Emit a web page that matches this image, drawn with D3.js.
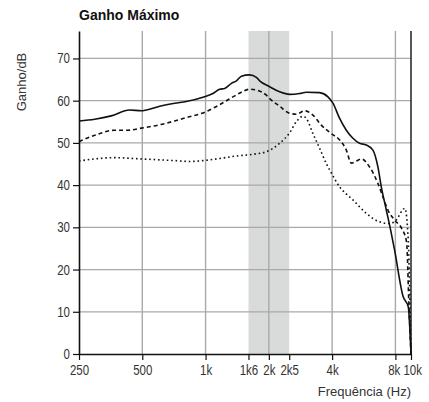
<!DOCTYPE html>
<html>
<head>
<meta charset="utf-8">
<script src="https://cdn.jsdelivr.net/npm/d3@7"></script>
<style>
  body { margin: 0; background: #fff; }
  .tick text { font-family: "Liberation Sans Narrow", "Liberation Sans", Arial, sans-serif; font-size: 14px; fill: #333; }
</style>
</head>
<body>
<div id="chart"></div>
<script>
// frequency ticks (Hz) and their labels
const freqTicks = [250, 500, 1000, 1600, 2000, 2500, 4000, 8000, 10000];
const freqLabels = ["250", "500", "1k", "1k6", "2k", "2k5", "4k", "8k", "10k"];
const gridFreqs = [500, 1000, 2000, 4000, 8000];
const gainTicks = [0, 10, 20, 30, 40, 50, 60, 70];
const band = [1600, 2500];

// solid curve [Hz, dB]
const solidFreq = [250, 297, 356, 435, 495, 523, 605, 713, 810, 972, 1084, 1167, 1233, 1327, 1401, 1480, 1620, 1745, 1808, 2018, 2251, 2512, 2803, 3015, 3489, 3821, 4036, 4343, 4673, 5023, 5405, 5816, 6254, 6605, 6855, 7241, 7590, 7930, 8936, 9614, 10000];
const solidGain = [55.2, 55.6, 56.4, 57.8, 57.6, 57.8, 58.7, 59.4, 59.8, 60.8, 61.7, 62.7, 62.9, 64.1, 64.7, 65.8, 66.1, 65.5, 64.7, 63.3, 62.1, 61.5, 61.7, 62.0, 61.9, 60.9, 59.4, 55.8, 53.0, 51.1, 49.9, 49.5, 48.3, 44.3, 39.6, 34.1, 29.4, 24.6, 13.6, 11.2, 0];

// dashed curve
const dashFreq = [250, 297, 370, 428, 495, 594, 713, 810, 972, 1084, 1210, 1350, 1480, 1620, 1745, 1946, 2018, 2251, 2512, 2702, 2961, 3242, 3553, 3965, 4343, 4673, 4936, 5213, 5507, 6030, 6605, 6978, 7370, 7930, 8730, 9390, 9700, 10000];
const dashGain = [50.3, 51.8, 53.0, 53.0, 53.5, 54.2, 55.2, 56.0, 57.1, 58.2, 59.5, 60.9, 62.0, 62.7, 62.5, 61.3, 60.5, 58.7, 57.0, 56.8, 57.6, 56.6, 54.2, 52.2, 50.7, 48.3, 45.2, 45.7, 46.2, 44.3, 40.4, 37.2, 34.1, 31.7, 29.8, 26.5, 12, 0];

// dotted curve
const dotFreq = [250, 297, 370, 495, 713, 840, 972, 1167, 1401, 1681, 1946, 2251, 2512, 2702, 2906, 3015, 3242, 3489, 3753, 3893, 4343, 5023, 5816, 6728, 7508, 8000, 9160, 9614, 9900, 10000];
const dotGain = [45.7, 46.2, 46.5, 46.2, 45.8, 45.6, 45.8, 46.3, 46.9, 47.3, 47.9, 49.9, 52.4, 55.0, 56.3, 55.8, 52.2, 48.7, 45.1, 43.6, 39.6, 36.5, 33.3, 31.3, 30.9, 31.5, 34.5, 27, 8, 0];

const margin = { top: 31, right: 18, bottom: 48, left: 79 };
const width = 429 - margin.left - margin.right;
const height = 402 - margin.top - margin.bottom;

const svg = d3.select("#chart")
  .append("svg")
  .attr("width", 429)
  .attr("height", 402);

const g = svg.append("g")
  .attr("transform", "translate(" + margin.left + "," + margin.top + ")");

// log2 frequency axis, last segment (8k-10k) is compressed like the original
const xLog = d3.scaleLinear()
  .domain([Math.log2(250), Math.log2(8000), Math.log2(10000)])
  .range([0, 316.4, width]);
const x = f => xLog(Math.log2(f));

const y = d3.scaleLinear()
  .domain([0, 76.5])
  .range([height, 0]);

// shaded band
g.append("rect")
  .attr("x", x(band[0]))
  .attr("y", 0)
  .attr("width", x(band[1]) - x(band[0]))
  .attr("height", height)
  .attr("fill", "#d9dbdb");

// horizontal grid
g.selectAll(".hgrid")
  .data(gainTicks.slice(1))
  .enter()
  .append("line")
  .attr("class", "hgrid")
  .attr("x1", 0)
  .attr("x2", width)
  .attr("y1", d => y(d))
  .attr("y2", d => y(d))
  .attr("stroke", "#a9a9a9")
  .attr("stroke-width", 1.2);

// vertical grid
g.selectAll(".vgrid")
  .data(gridFreqs)
  .enter()
  .append("line")
  .attr("class", "vgrid")
  .attr("x1", d => x(d))
  .attr("x2", d => x(d))
  .attr("y1", 0)
  .attr("y2", height)
  .attr("stroke", "#a9a9a9")
  .attr("stroke-width", 1.4);

// curves
const line = d3.line()
  .x(d => x(d[0]))
  .y(d => y(d[1]))
  .curve(d3.curveMonotoneX);

const series = [
  { f: dotFreq, v: dotGain, dash: "1.6,2.8" },
  { f: dashFreq, v: dashGain, dash: "4,3" },
  { f: solidFreq, v: solidGain, dash: null }
];

series.forEach(s => {
  g.append("path")
    .datum(s.f.map((f, i) => [f, s.v[i]]))
    .attr("fill", "none")
    .attr("stroke", "#111")
    .attr("stroke-width", 1.6)
    .attr("stroke-dasharray", s.dash)
    .attr("d", line);
});

// right border
g.append("line")
  .attr("x1", width)
  .attr("x2", width)
  .attr("y1", 0)
  .attr("y2", height)
  .attr("stroke", "#111")
  .attr("stroke-width", 1.4);

// axes
const yAxis = g.append("g")
  .call(d3.axisLeft(y).tickValues(gainTicks).tickSize(6).tickSizeOuter(0).tickPadding(3));

const xAxis = g.append("g")
  .attr("transform", "translate(0," + height + ")")
  .call(d3.axisBottom(xLog)
    .tickValues(freqTicks.map(f => Math.log2(f)))
    .tickFormat((d, i) => freqLabels[i])
    .tickSize(6).tickSizeOuter(0).tickPadding(5));

[yAxis, xAxis].forEach(a => {
  a.select(".domain").attr("stroke", "#111").attr("stroke-width", 1.6);
  a.selectAll(".tick line").attr("stroke", "#111").attr("stroke-width", 1.2);
  a.selectAll(".tick text").attr("font-family", null).attr("font-size", null);
});

// condensed look for the tick numbers
yAxis.selectAll(".tick text").attr("x", -11).attr("transform", "scale(0.82,1)");
xAxis.selectAll(".tick text").attr("transform", "scale(0.82,1)");
// give the crowded 8k / 10k labels a little room
xAxis.selectAll(".tick text")
  .filter((d, i) => freqLabels[i] === "8k").attr("dx", -2);
xAxis.selectAll(".tick text")
  .filter((d, i) => freqLabels[i] === "10k").attr("dx", 1.5);

// title
svg.append("text")
  .attr("x", margin.left)
  .attr("y", 20)
  .attr("font-family", "'Liberation Sans', Arial, sans-serif")
  .attr("font-weight", "bold")
  .attr("font-size", "14px")
  .attr("fill", "#111")
  .text("Ganho Máximo");

// y label
svg.append("text")
  .attr("transform", "rotate(-90)")
  .attr("x", -82)
  .attr("y", 26)
  .attr("text-anchor", "middle")
  .attr("font-family", "'Liberation Sans', Arial, sans-serif")
  .attr("font-size", "13px")
  .attr("fill", "#333")
  .text("Ganho/dB");

// x label
svg.append("text")
  .attr("x", margin.left + width)
  .attr("y", 396)
  .attr("text-anchor", "end")
  .attr("font-family", "'Liberation Sans', Arial, sans-serif")
  .attr("font-size", "13px")
  .attr("fill", "#333")
  .text("Frequência (Hz)");
</script>
</body>
</html>
